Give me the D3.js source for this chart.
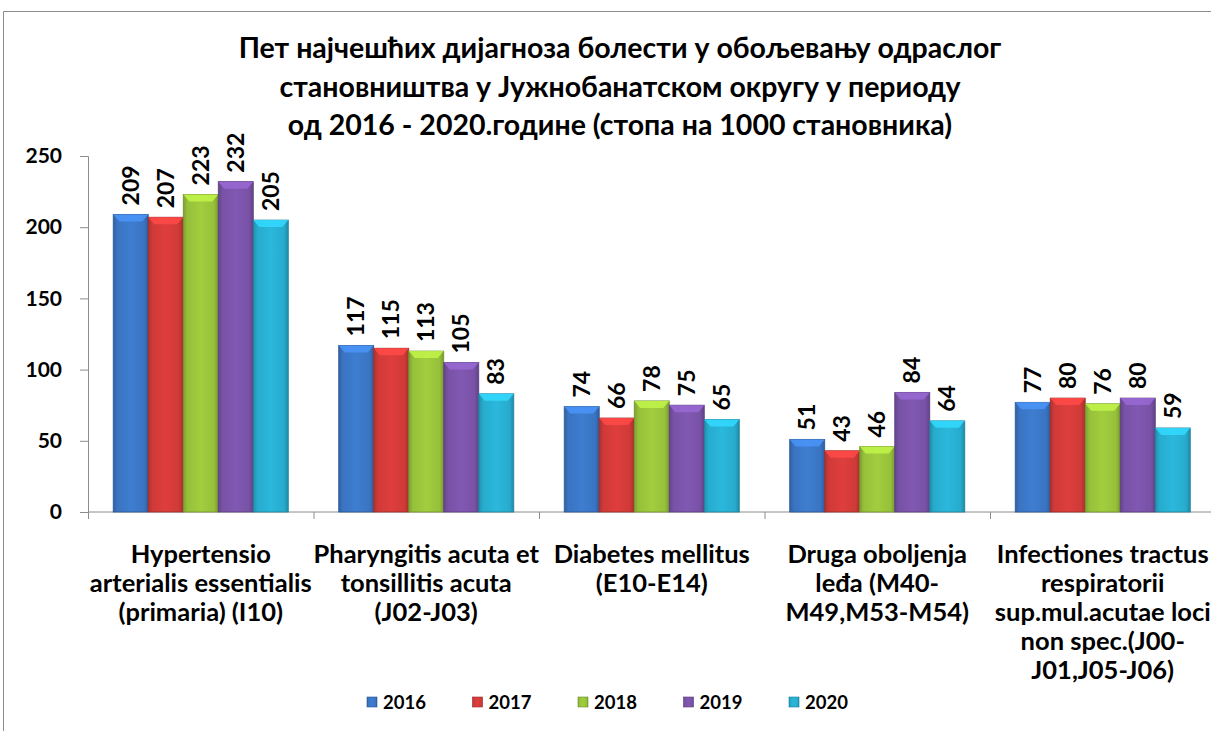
<!DOCTYPE html>
<html>
<head>
<meta charset="utf-8">
<script src="https://cdnjs.cloudflare.com/ajax/libs/d3/7.8.5/d3.min.js"></script>
<style>
  html, body { margin: 0; padding: 0; background: #fff; }
  svg { display: block; font-family: Lato, "Noto Sans", sans-serif; font-weight: bold; }
</style>
</head>
<body>
<div class="chart"></div>
<script>
;(function(window, document, undefined) {

  'use strict';

  var titleLines = [
    'Пет најчешћих дијагноза болести у обољевању одраслог',
    'становништва у Јужнобанатском округу у периоду',
    'од 2016 - 2020.године (стопа на 1000 становника)'
  ];

  var categories = ['hyp', 'pha', 'dia', 'dru', 'inf'];
  var categoryLabels = [
    ['Hypertensio', 'arterialis essentialis', '(primaria) (I10)'],
    ['Pharyngitis acuta et', 'tonsillitis acuta', '(J02-J03)'],
    ['Diabetes mellitus', '(E10-E14)'],
    ['Druga oboljenja', 'leđa (M40-', 'M49,M53-M54)'],
    ['Infectiones tractus', 'respiratorii', 'sup.mul.acutae loci', 'non spec.(J00-', 'J01,J05-J06)']
  ];

  var years = ['2016', '2017', '2018', '2019', '2020'];
  var values2016 = [209, 117, 74, 51, 77];
  var values2017 = [207, 115, 66, 43, 80];
  var values2018 = [223, 113, 78, 46, 76];
  var values2019 = [232, 105, 75, 84, 80];
  var values2020 = [205, 83, 65, 64, 59];
  var yTicks = [0, 50, 100, 150, 200, 250];

  var colors = ['#3a74c2', '#cf3a38', '#96c03a', '#7852a6', '#27abcd'];

  var W = 1211, H = 731;

  function init() {
    var series = [values2016, values2017, values2018, values2019, values2020];
    render(series);
  }

  function render(series) {
    var svg = d3.select('.chart')
      .append('svg')
      .attr('width', W)
      .attr('height', H);

    var defs = svg.append('defs');
    colors.forEach(function(c, i) {
      var g = defs.append('linearGradient')
        .attr('id', 'grad' + i)
        .attr('x1', '0%').attr('x2', '100%')
        .attr('y1', '0%').attr('y2', '0%');
      var base = d3.color(c);
      g.append('stop').attr('offset', '0%').attr('stop-color', base.darker(0.5));
      g.append('stop').attr('offset', '12%').attr('stop-color', base);
      g.append('stop').attr('offset', '50%').attr('stop-color', base.brighter(0.2));
      g.append('stop').attr('offset', '88%').attr('stop-color', base);
      g.append('stop').attr('offset', '100%').attr('stop-color', base.darker(0.6));
    });

    // frame
    svg.append('path')
      .attr('d', 'M3.5,' + H + 'V11.5H' + W)
      .attr('fill', 'none')
      .attr('stroke', '#8c8c8c')
      .attr('stroke-width', 1);

    // title
    svg.append('text')
      .attr('text-anchor', 'middle')
      .attr('font-size', 28.5)
      .attr('fill', '#000')
      .selectAll('tspan')
      .data(titleLines)
      .enter()
      .append('tspan')
      .attr('x', 620)
      .attr('y', function(d, i) { return 58 + i * 38.5; })
      .text(function(d) { return d; });

    var left = 88, bottom = 512, top = 156;
    var catW = 225.5;

    var x0 = d3.scaleBand()
      .domain(categories)
      .range([left, left + catW * categories.length])
      .paddingInner(0)
      .paddingOuter(0);

    var x1 = d3.scaleBand()
      .domain(years)
      .range([0, x0.bandwidth()])
      .paddingInner(0)
      .paddingOuter(0.72);

    var y = d3.scaleLinear()
      .domain([0, 250])
      .range([bottom, top]);

    // y axis
    var yAxis = svg.append('g')
      .attr('transform', 'translate(' + left + ',0)')
      .call(d3.axisLeft(y).tickValues(yTicks).tickSize(8).tickPadding(18));
    yAxis.select('.domain').attr('stroke', '#8c8c8c');
    yAxis.selectAll('.tick line').attr('stroke', '#8c8c8c');
    yAxis.selectAll('.tick text')
      .attr('font-size', 21)
      .attr('font-family', 'Lato, "Noto Sans", sans-serif')
      .attr('font-weight', 'bold')
      .attr('fill', '#000');

    // x axis
    var xAxisG = svg.append('g')
      .attr('transform', 'translate(0,' + bottom + ')');
    xAxisG.append('line')
      .attr('x1', left).attr('x2', W)
      .attr('stroke', '#8c8c8c');
    xAxisG.selectAll('.xtick')
      .data(categories.concat(['end']))
      .enter()
      .append('line')
      .attr('class', 'xtick')
      .attr('x1', function(d, i) { return left + i * catW + 0.5; })
      .attr('x2', function(d, i) { return left + i * catW + 0.5; })
      .attr('y1', 0).attr('y2', 7)
      .attr('stroke', '#8c8c8c');

    // category labels
    var catText = svg.append('g').selectAll('text')
      .data(categories)
      .enter()
      .append('text')
      .attr('text-anchor', 'middle')
      .attr('font-size', 25.5)
      .attr('fill', '#000');
    catText.selectAll('tspan')
      .data(function(d, i) {
        return categoryLabels[i].map(function(t) { return { t: t, c: d }; });
      })
      .enter()
      .append('tspan')
      .attr('x', function(d) { return x0(d.c) + x0.bandwidth() / 2; })
      .attr('y', function(d, i) { return 563 + i * 29; })
      .text(function(d) { return d.t; });

    // bars
    var groups = svg.append('g').selectAll('g')
      .data(series)
      .enter()
      .append('g')
      .attr('transform', function(d, i) { return 'translate(' + x1(years[i]) + ',0)'; });

    var bw = x1.bandwidth();

    groups.each(function(vals, si) {
      var g = d3.select(this);
      var base = d3.color(colors[si]);
      g.selectAll('rect')
        .data(vals)
        .enter()
        .append('rect')
        .attr('x', function(d, i) { return x0(categories[i]); })
        .attr('y', function(d) { return y(d); })
        .attr('width', bw)
        .attr('height', function(d) { return bottom - y(d); })
        .attr('fill', 'url(#grad' + si + ')')
        .attr('stroke', base.darker(0.8))
        .attr('stroke-width', 0.8);

      // top bevel
      g.selectAll('path.bevel')
        .data(vals)
        .enter()
        .append('path')
        .attr('class', 'bevel')
        .attr('d', function(d, i) {
          var xl = x0(categories[i]), yt = y(d);
          return 'M' + xl + ',' + yt + 'H' + (xl + bw) +
            'L' + (xl + bw - 6) + ',' + (yt + 7) + 'H' + (xl + 6) + 'Z';
        })
        .attr('fill', base.brighter(0.7))
        .attr('opacity', 0.85);

      // value labels
      g.selectAll('text')
        .data(vals)
        .enter()
        .append('text')
        .attr('transform', function(d, i) {
          var cx = x0(categories[i]) + bw / 2 + 8;
          return 'translate(' + cx + ',' + (y(d) - 9) + ') rotate(-90)';
        })
        .attr('font-size', 23)
        .attr('fill', '#000')
        .text(function(d) { return d; });
    });

    // legend
    var legend = svg.append('g').selectAll('g')
      .data(years)
      .enter()
      .append('g')
      .attr('transform', function(d, i) { return 'translate(' + (367 + i * 105.5) + ',697)'; });
    legend.append('rect')
      .attr('width', 10).attr('height', 10)
      .attr('fill', function(d, i) { return 'url(#grad' + i + ')'; })
      .attr('stroke', function(d, i) { return d3.color(colors[i]).darker(0.8); })
      .attr('stroke-width', 0.6);
    legend.append('text')
      .attr('x', 16).attr('y', 12)
      .attr('font-size', 18.5)
      .attr('fill', '#000')
      .text(function(d) { return d; });
  }

  init();

})(window, document);
</script>
</body>
</html>
